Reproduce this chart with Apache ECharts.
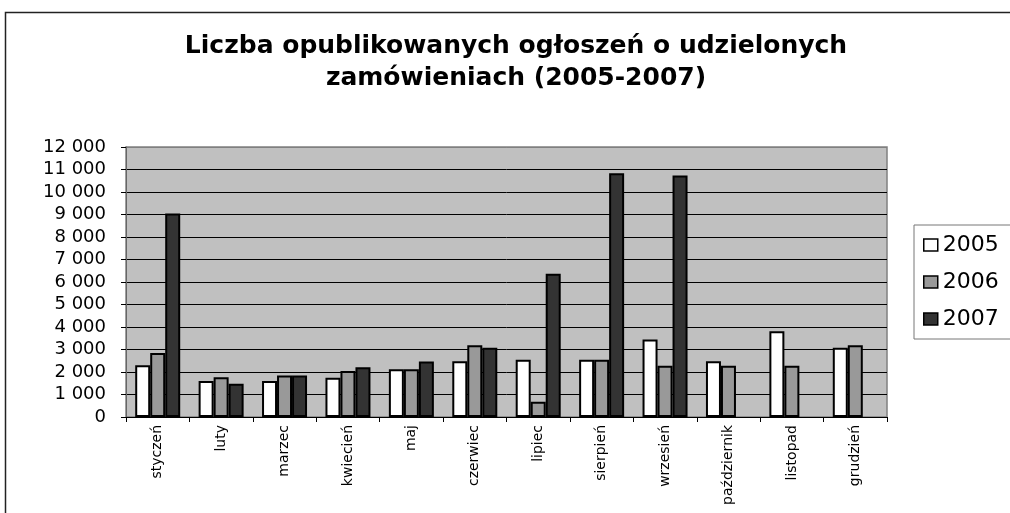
<!DOCTYPE html>
<html>
<head>
<meta charset="utf-8">
<title>Liczba opublikowanych ogłoszeń o udzielonych zamówieniach</title>
<script src="https://cdn.jsdelivr.net/npm/echarts@6/dist/echarts.min.js"></script>
<style>
    html, body { margin: 0; padding: 0; background: #fff; }
    #chart { width: 1010px; height: 513px; }
</style>
</head>
<body>
<div id="chart"></div>
<script>
// miesiące (oś X)
var months = ['styczeń', 'luty', 'marzec', 'kwiecień', 'maj', 'czerwiec', 'lipiec',
    'sierpień', 'wrzesień', 'październik', 'listopad', 'grudzień'];
var years = ['2005', '2006', '2007'];

// liczba ogłoszeń
var data2005 = [2300, 1600, 1600, 1750, 2120, 2480, 2550, 2550, 3440, 2480, 3810, 3080];
var data2006 = [2850, 1770, 1840, 2040, 2120, 3190, 680, 2550, 2280, 2280, 2280, 3190];
var data2007 = [9050, 1480, 1840, 2210, 2470, 3080, 6370, 10830, 10730, null, null, null];

var yMax = 12000;
var yStep = 1000;

var FONT = 'DejaVu Sans';

// 12000 -> "12 000"
function fmtNum(v) {
    return String(v).replace(/\B(?=(\d{3})+(?!\d))/g, ' ');
}

// linie siatki czarne, górna (max) szara jak ramka
function gridColors() {
    var arr = [];
    for (var i = 0; i < yMax / yStep; i++) {
        arr.push('#000');
    }
    arr.push('#808080');
    return arr;
}

function barSeries(name, list, color) {
    return {
        name: name,
        type: 'bar',
        data: list,
        barWidth: 15,
        barGap: '0%',
        itemStyle: {
            color: color,
            borderColor: '#000',
            borderWidth: 2
        }
    };
}

var chart = echarts.init(document.getElementById('chart'));

var option = {
    animation: false,
    backgroundColor: '#fff',
    title: {
        text: 'Liczba opublikowanych ogłoszeń o udzielonych\nzamówieniach (2005-2007)',
        left: 511,
        textAlign: 'center',
        top: 25,
        padding: 5,
        textStyle: {
            fontFamily: FONT,
            fontWeight: 'bold',
            fontSize: 25,
            lineHeight: 32,
            color: '#000'
        }
    },
    // ramka całego wykresu
    graphic: [{
        type: 'rect',
        silent: true,
        z: -10,
        shape: { x: 5.5, y: 12.5, width: 1100, height: 600 },
        style: { fill: 'none', stroke: '#222', lineWidth: 1.5 }
    }],
    legend: {
        orient: 'vertical',
        left: 914,
        top: 225,
        padding: [9, 40, 9, 9],
        itemGap: 15,
        itemWidth: 14,
        itemHeight: 12,
        borderColor: '#777',
        borderWidth: 1,
        icon: 'rect',
        data: years,
        itemStyle: { borderWidth: 1.5, borderColor: '#000' },
        textStyle: { fontFamily: FONT, fontSize: 22, color: '#000' }
    },
    grid: {
        left: 126,
        right: 123,
        top: 147,
        bottom: 96,
        show: true,
        backgroundColor: '#c0c0c0',
        borderColor: '#808080',
        borderWidth: 1.5
    },
    xAxis: {
        type: 'category',
        data: months,
        axisLine: { lineStyle: { color: '#000', width: 1 } },
        axisTick: { show: true, length: 5, lineStyle: { color: '#000' } },
        axisLabel: {
            rotate: 90,
            margin: 8,
            interval: 0,
            fontFamily: FONT,
            fontSize: 14,
            color: '#000'
        }
    },
    yAxis: {
        type: 'value',
        min: 0,
        max: yMax,
        interval: yStep,
        axisLine: { show: true, lineStyle: { color: '#666', width: 1 } },
        axisTick: { show: true, length: 5, lineStyle: { color: '#000' } },
        splitLine: { lineStyle: { color: gridColors(), width: 1 } },
        axisLabel: {
            margin: 20,
            fontFamily: FONT,
            fontSize: 18,
            color: '#000',
            formatter: fmtNum
        }
    },
    series: [
        barSeries(years[0], data2005, '#ffffff'),
        barSeries(years[1], data2006, '#999999'),
        barSeries(years[2], data2007, '#333333')
    ]
};

chart.setOption(option);
</script>
</body>
</html>
